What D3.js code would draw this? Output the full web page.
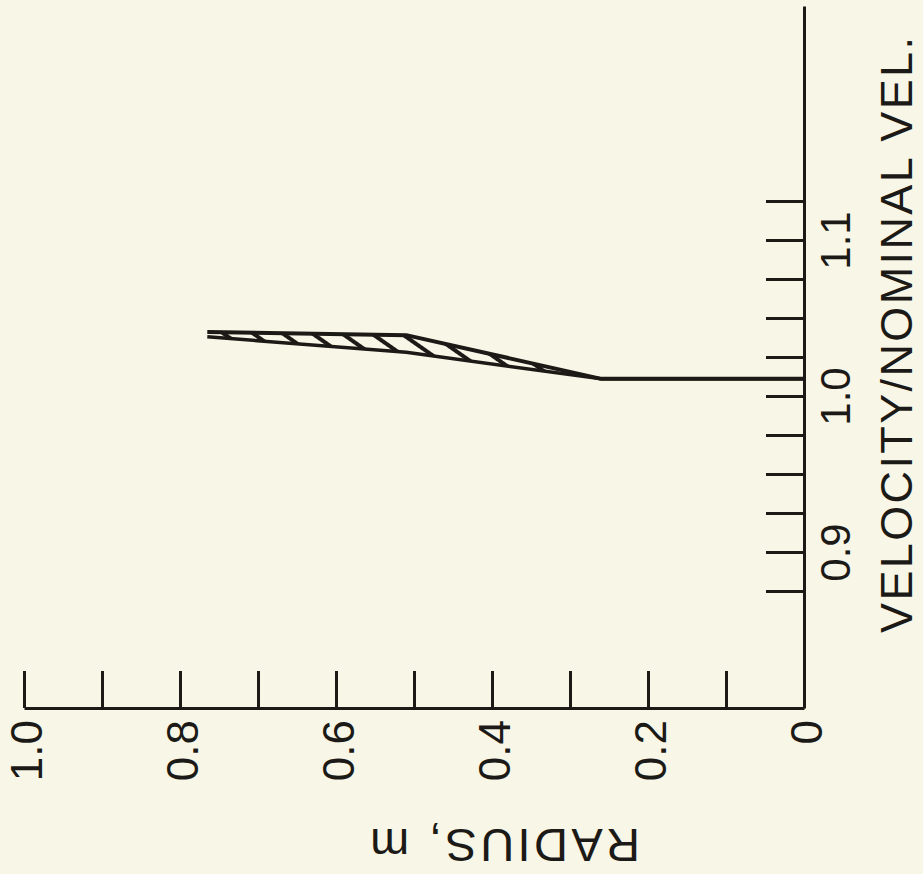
<!DOCTYPE html>
<html>
<head>
<meta charset="utf-8">
<script src="https://cdn.jsdelivr.net/npm/d3@7"></script>
<style>
  body { margin: 0; background: #f8f6e6; }
  svg { display: block; }
</style>
</head>
<body>
<div id="chart"></div>
<script>
// radius (m) and velocity / nominal velocity
const radius = [0, 0.26, 0.51, 0.765];
const velUpper = [1.011, 1.011, 1.039, 1.041];
const velLower = [1.011, 1.011, 1.028, 1.038];

const radiusTicks = [0, 0.1, 0.2, 0.3, 0.4, 0.5, 0.6, 0.7, 0.8, 0.9, 1.0];
const radiusLabels = ["0", "", "0.2", "", "0.4", "", "0.6", "", "0.8", "", "1.0"];
const velTicks = [0.875, 0.9, 0.925, 0.95, 0.975, 1.0, 1.025, 1.05, 1.075, 1.1, 1.125];
const velLabels = ["", "0.9", "", "", "", "1.0", "", "", "", "1.1", ""];

let width = 923, height = 874;
const ink = "#1c1a17";

let svg = d3.select("#chart")
  .append("svg")
  .attr("width", width)
  .attr("height", height)
  .style("background", "#f8f6e6");

// radius runs right to left, velocity bottom to top
let xscale = d3.scaleLinear().domain([0, 1]).range([804, 24]);
let yscale = d3.scaleLinear().domain([0.8, 1.25]).range([708, 6]);

// hatch pattern for the band between the two curves
let defs = svg.append("defs");
defs.append("pattern")
  .attr("id", "hatch")
  .attr("patternUnits", "userSpaceOnUse")
  .attr("width", 17)
  .attr("height", 17)
  .attr("patternTransform", "rotate(-55)")
  .append("line")
  .attr("x1", 8).attr("y1", 0)
  .attr("x2", 8).attr("y2", 17)
  .attr("stroke", ink)
  .attr("stroke-width", 4);

// radius axis along the bottom, ticks pointing up
let xaxis = svg.append("g")
  .attr("transform", `translate(0, ${yscale(0.8)})`)
  .call(d3.axisBottom(xscale)
    .tickValues(radiusTicks)
    .tickSize(-37)
    .tickSizeOuter(0)
    .tickFormat((d, i) => radiusLabels[i]));

xaxis.select(".domain").attr("stroke", ink).attr("stroke-width", 3);
xaxis.selectAll(".tick line").attr("stroke", ink).attr("stroke-width", 3);
xaxis.selectAll(".tick text")
  .attr("x", 0).attr("y", 0).attr("dy", null)
  .attr("transform", "translate(17, 12) rotate(-90)")
  .attr("text-anchor", "end")
  .attr("fill", ink)
  .style("font-family", "'Liberation Sans', Arial, sans-serif")
  .style("font-size", "44px");

// velocity axis on the right, ticks pointing left
let yaxis = svg.append("g")
  .attr("transform", `translate(${xscale(0)}, 0)`)
  .call(d3.axisRight(yscale)
    .tickValues(velTicks)
    .tickSize(-38)
    .tickSizeOuter(0)
    .tickFormat((d, i) => velLabels[i]));

yaxis.select(".domain").attr("stroke", ink).attr("stroke-width", 3);
yaxis.selectAll(".tick line").attr("stroke", ink).attr("stroke-width", 3);
yaxis.selectAll(".tick text")
  .attr("x", 0).attr("y", 0).attr("dy", null)
  .attr("transform", "translate(46, 0) rotate(-90)")
  .attr("text-anchor", "middle")
  .attr("fill", ink)
  .style("font-family", "'Liberation Sans', Arial, sans-serif")
  .style("font-size", "42px");

// axis titles
svg.append("text")
  .attr("transform", "translate(912, 335) rotate(-90)")
  .attr("text-anchor", "middle")
  .attr("textLength", 596)
  .attr("lengthAdjust", "spacing")
  .attr("fill", ink)
  .style("font-family", "'Liberation Sans', Arial, sans-serif")
  .style("font-size", "45px")
  .text("VELOCITY/NOMINAL VEL.");

svg.append("text")
  .attr("transform", "translate(505, 829) rotate(180)")
  .attr("text-anchor", "middle")
  .attr("textLength", 270)
  .attr("lengthAdjust", "spacing")
  .attr("fill", ink)
  .style("font-family", "'Liberation Sans', Arial, sans-serif")
  .style("font-size", "47px")
  .text("RADIUS, m");

// data
const pts = radius.map((r, i) => ({ r: r, up: velUpper[i], lo: velLower[i] }));
const band = pts.filter(d => d.up !== d.lo || d.r === radius[1]);

svg.append("path")
  .datum(band)
  .attr("d", d3.area()
    .x(d => xscale(d.r))
    .y0(d => yscale(d.lo))
    .y1(d => yscale(d.up)))
  .attr("fill", "url(#hatch)");

svg.append("path")
  .datum(pts)
  .attr("d", d3.line().x(d => xscale(d.r)).y(d => yscale(d.up)))
  .attr("fill", "none")
  .attr("stroke", ink)
  .attr("stroke-width", 4)
  .attr("stroke-linejoin", "round");

svg.append("path")
  .datum(pts)
  .attr("d", d3.line().x(d => xscale(d.r)).y(d => yscale(d.lo)))
  .attr("fill", "none")
  .attr("stroke", ink)
  .attr("stroke-width", 3.5)
  .attr("stroke-linejoin", "round");
</script>
</body>
</html>
